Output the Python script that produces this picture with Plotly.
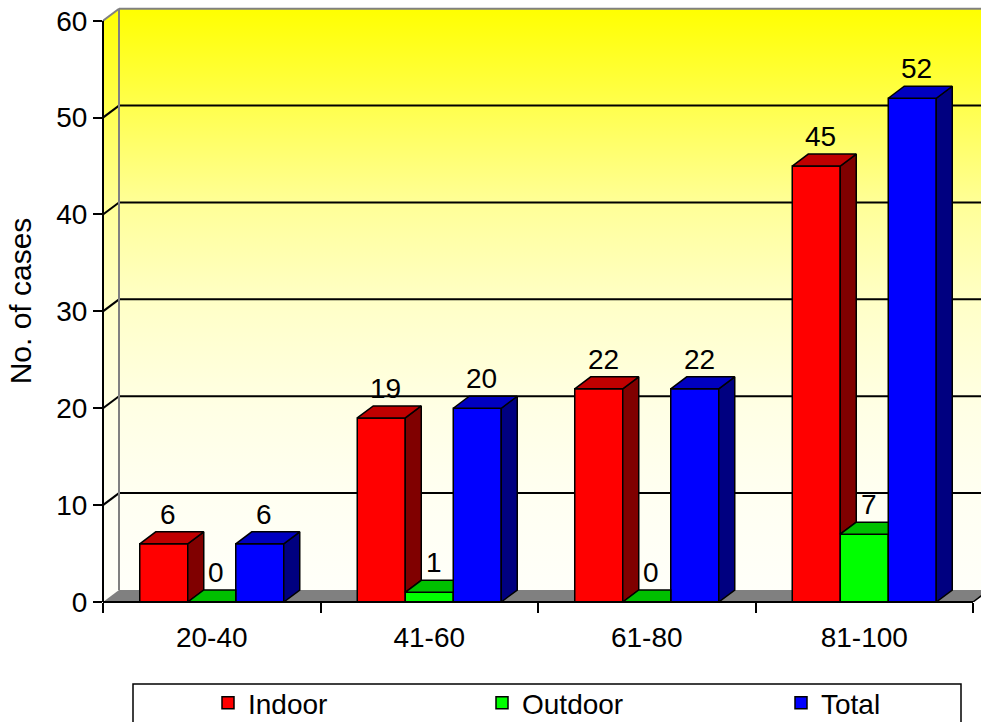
import base64
import plotly.graph_objects as go

# ---------------- data ----------------
categories = ["20-40", "41-60", "61-80", "81-100"]
indoor = [6, 19, 22, 45]
outdoor = [0, 1, 0, 7]
total = [6, 20, 22, 52]
y_ticks = [0, 10, 20, 30, 40, 50, 60]
series_names = ["Indoor", "Outdoor", "Total"]

# ---------------- styles ----------------
front_colors = ["#FF0000", "#00FF00", "#0000FF"]
top_colors = ["#C00000", "#00C000", "#0000C0"]
side_colors = ["#800000", "#008000", "#000080"]
legend_widths = [229, 254, 80]
FONT = "Arial, 'Liberation Sans', sans-serif"
FS = 28

series_values = [indoor, outdoor, total]
n_cat = len(categories)
n_ser = len(series_values)

# geometry (axis units)
X_MIN = -0.5
X_MAX = 3.5368
Y_MAX = 62.14
DX = 16 / 217.5          # depth offset in category units
DY = 12 / 9.688          # depth offset in value units
BAR_W = 0.2207
Y_TOP = max(y_ticks) + DY
X_END = n_cat - 0.5
offsets = [(k - (n_ser - 1) / 2) * BAR_W for k in range(n_ser)]

fig = go.Figure()

# front faces as bars
for k in range(n_ser):
    fig.add_trace(go.Bar(
        x=list(range(n_cat)), y=series_values[k], name=series_names[k],
        marker=dict(color=front_colors[k], line=dict(color="black", width=1.5)),
        legendwidth=legend_widths[k], hoverinfo="skip",
    ))

# side and top faces (painter's order: left to right)
for i in range(n_cat):
    for k in range(n_ser):
        h = series_values[k][i]
        xl = i + offsets[k] - BAR_W / 2
        xr = xl + BAR_W
        nxt = series_values[k + 1][i] if k + 1 < n_ser else None
        lo = max(0, nxt) if nxt is not None else 0
        if h > lo:
            fig.add_trace(go.Scatter(
                x=[xr, xr + DX, xr + DX, xr, xr],
                y=[lo, lo + DY, h + DY, h, lo],
                mode="lines", fill="toself", fillcolor=side_colors[k],
                line=dict(color="black", width=1.5), showlegend=False, hoverinfo="skip",
            ))
        if nxt is not None and nxt > h:
            tx = [xl, xr, xr, xl + DX, xl]
            ty = [h, h, h + DY, h + DY, h]
        else:
            tx = [xl, xr, xr + DX, xl + DX, xl]
            ty = [h, h, h + DY, h + DY, h]
        fig.add_trace(go.Scatter(
            x=tx, y=ty, mode="lines", fill="toself", fillcolor=top_colors[k],
            line=dict(color="black", width=1.5), showlegend=False, hoverinfo="skip",
        ))

# data labels
annotations = []
for i in range(n_cat):
    for k in range(n_ser):
        h = series_values[k][i]
        annotations.append(dict(
            x=i + offsets[k] + 0.02, y=h + DY, xref="x", yref="y",
            text=str(h), showarrow=False, yanchor="bottom", xanchor="center",
            font=dict(family=FONT, size=FS, color="black"),
        ))

# wall gradient image (back wall + side wall)
W_X0, W_X1 = X_MIN, X_END + DX
def sx(x):
    return (x - W_X0) / (W_X1 - W_X0) * 1000
def sy(y):
    return (Y_TOP - y) / Y_TOP * 1000
wall_pts = [(X_MIN, 0), (X_MIN, max(y_ticks)), (X_MIN + DX, Y_TOP), (X_END + DX, Y_TOP),
            (X_END + DX, DY), (X_MIN + DX, DY)]
pts_str = " ".join(f"{sx(x):.3f},{sy(y):.3f}" for x, y in wall_pts)
svg = (
    '<svg xmlns="http://www.w3.org/2000/svg" width="1000" height="1000" '
    'viewBox="0 0 1000 1000" preserveAspectRatio="none">'
    '<defs><linearGradient id="g" x1="0" y1="0" x2="0" y2="1">'
    '<stop offset="0" stop-color="#FFFF00"/>'
    '<stop offset="0.17" stop-color="#FFFF50"/>'
    '<stop offset="0.33" stop-color="#FFFF98"/>'
    '<stop offset="0.5" stop-color="#FFFFC8"/>'
    '<stop offset="0.67" stop-color="#FFFFE4"/>'
    '<stop offset="0.83" stop-color="#FFFFF2"/>'
    '<stop offset="1" stop-color="#FFFFFA"/>'
    '</linearGradient></defs>'
    f'<polygon points="{pts_str}" fill="url(#g)"/></svg>'
)
img_src = "data:image/svg+xml;base64," + base64.b64encode(svg.encode()).decode()

shapes = []
# floor
shapes.append(dict(
    type="path", xref="x", yref="y", layer="between",
    path=f"M {X_MIN},0 L {X_END},0 L {X_END + DX},{DY} L {X_MIN + DX},{DY} Z",
    fillcolor="#808080", line=dict(width=0),
))
# gridlines on back wall and side wall
for v in y_ticks[1:-1]:
    shapes.append(dict(type="line", xref="x", yref="y", layer="between",
                       x0=X_MIN + DX, x1=X_END + DX, y0=v + DY, y1=v + DY,
                       line=dict(color="black", width=2)))
    shapes.append(dict(type="line", xref="x", yref="y", layer="between",
                       x0=X_MIN, x1=X_MIN + DX, y0=v, y1=v + DY,
                       line=dict(color="black", width=2)))
# wall borders (gray)
shapes.append(dict(type="line", xref="x", yref="y", layer="between",
                   x0=X_MIN + DX, x1=X_END + DX, y0=Y_TOP, y1=Y_TOP,
                   line=dict(color="#808080", width=2)))
shapes.append(dict(type="line", xref="x", yref="y", layer="between",
                   x0=X_MIN, x1=X_MIN + DX, y0=max(y_ticks), y1=Y_TOP,
                   line=dict(color="#808080", width=2)))
shapes.append(dict(type="line", xref="x", yref="y", layer="between",
                   x0=X_MIN + DX, x1=X_MIN + DX, y0=DY, y1=Y_TOP,
                   line=dict(color="#808080", width=2)))
# floor right edge
shapes.append(dict(type="line", xref="x", yref="y", layer="between",
                   x0=X_END, x1=X_END + DX, y0=0, y1=DY,
                   line=dict(color="black", width=1.5)))
# axis lines
shapes.append(dict(type="line", xref="paper", yref="y", x0=0, x1=0, y0=0, y1=max(y_ticks),
                   line=dict(color="black", width=2)))
shapes.append(dict(type="line", xref="x", yref="paper", x0=X_MIN, x1=X_END, y0=0, y1=0,
                   line=dict(color="black", width=2)))
# legend frame
PLOT_W = 878
PLOT_H = 602
shapes.append(dict(type="rect", xref="paper", yref="paper",
                   x0=30 / PLOT_W, x1=858 / PLOT_W, y0=-82 / PLOT_H, y1=-135 / PLOT_H,
                   line=dict(color="black", width=1.5), fillcolor="rgba(0,0,0,0)"))

fig.update_layout(
    width=981, height=722, autosize=False,
    margin=dict(l=103, r=0, t=0, b=120, pad=0, autoexpand=False),
    paper_bgcolor="white", plot_bgcolor="rgba(0,0,0,0)",
    font=dict(family=FONT, size=FS, color="black"),
    barmode="group", bargap=1 - n_ser * BAR_W, bargroupgap=0,
    showlegend=True,
    legend=dict(orientation="h", x=(208 - 103) / PLOT_W, xanchor="left",
                y=-76 / PLOT_H, yanchor="top", bgcolor="rgba(0,0,0,0)", borderwidth=0,
                traceorder="normal",
                font=dict(family=FONT, size=FS, color="black")),
    xaxis=dict(range=[X_MIN, X_MAX], tickmode="array", tickvals=list(range(n_cat)),
               ticktext=categories, ticks="", showgrid=False, zeroline=False, showline=False,
               ticklabelstandoff=16,
               minor=dict(tickmode="array", tickvals=[c - 0.5 for c in range(n_cat + 1)],
                          ticks="outside", ticklen=10, tickwidth=1.5, tickcolor="black",
                          showgrid=False)),
    yaxis=dict(range=[0, Y_MAX], tickmode="array", tickvals=y_ticks, ticks="outside",
               ticklen=9, tickwidth=1.5, tickcolor="black", showgrid=False, zeroline=False,
               showline=False, title=dict(text="No. of cases", font=dict(size=30))),
    images=[dict(source=img_src, xref="x", yref="y", x=W_X0, y=Y_TOP,
                 sizex=W_X1 - W_X0, sizey=Y_TOP, sizing="stretch",
                 xanchor="left", yanchor="top", layer="below")],
    shapes=shapes,
    annotations=annotations,
)

fig.write_html("out.html")
